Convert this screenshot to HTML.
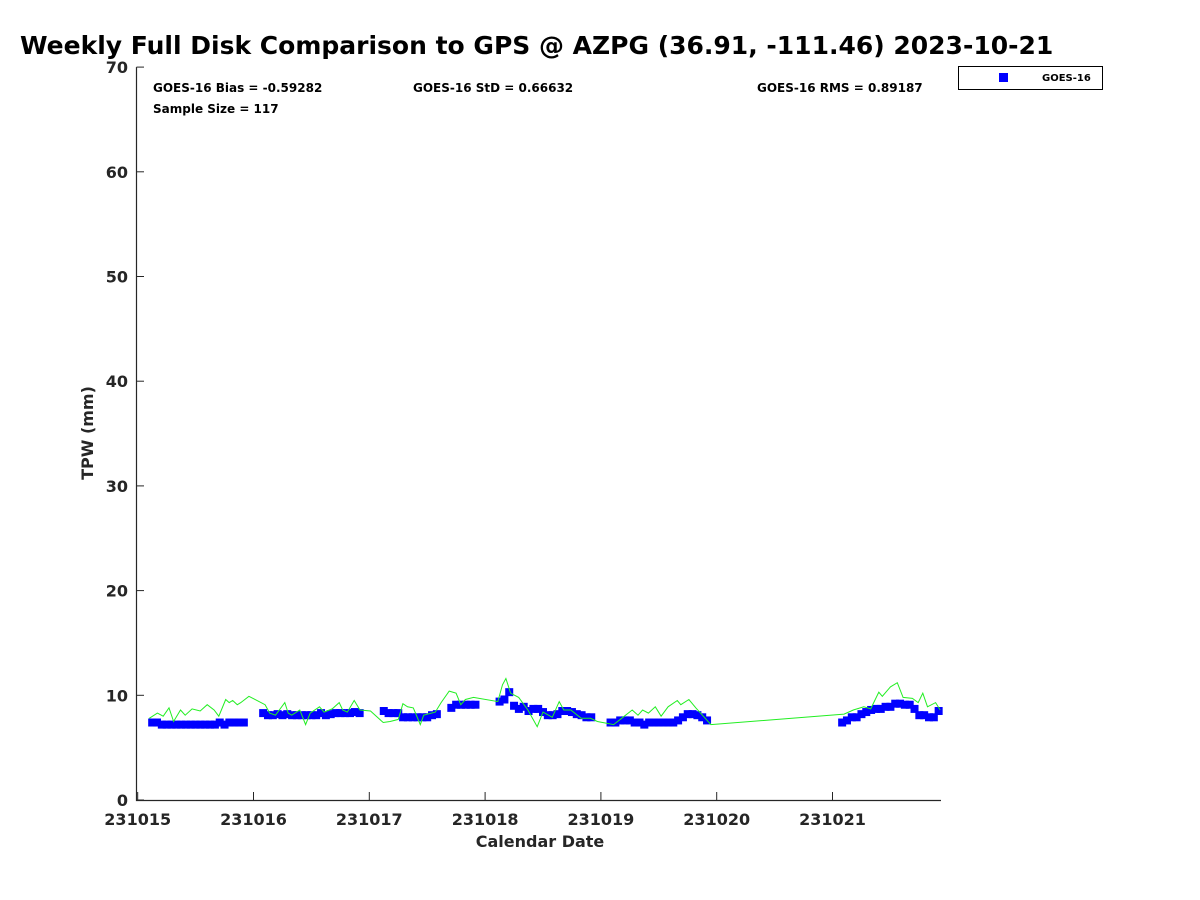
<!DOCTYPE html>
<html><head><meta charset="utf-8"><style>
body{margin:0;background:#fff;}
svg{display:block;font-family:"DejaVu Sans","Liberation Sans",sans-serif;font-weight:bold;}
</style></head><body>
<svg id="chart" width="1200" height="900" viewBox="0 0 1200 900">
<text x="20" y="54" font-size="25" fill="#000">Weekly Full Disk Comparison to GPS @ AZPG (36.91, -111.46) 2023-10-21</text>
<g id="axes"></g>
<g id="series"></g>
<text x="153" y="92" font-size="12">GOES-16 Bias = -0.59282</text>
<text x="413" y="92" font-size="12">GOES-16 StD = 0.66632</text>
<text x="757" y="92" font-size="12">GOES-16 RMS = 0.89187</text>
<text x="153" y="113" font-size="12">Sample Size = 117</text>
<g>
<rect x="958.5" y="66.5" width="144" height="23" fill="#fff" stroke="#000" stroke-width="1"/>
<rect x="999" y="73" width="9" height="9" fill="#0000ff"/>
<text x="1042" y="81" font-size="10">GOES-16</text>
</g>
<text x="540" y="847" font-size="16" text-anchor="middle" fill="#262626">Calendar Date</text>
<text transform="translate(93,433) rotate(-90)" font-size="16" text-anchor="middle" fill="#262626">TPW (mm)</text>
</svg>
<script>
const yTicks=[0,10,20,30,40,50,60,70];
const xTickLabels=["231015","231016","231017","231018","231019","231020","231021"];
const gpsDays=[0.10,0.17,0.22,0.27,0.31,0.37,0.41,0.47,0.54,0.60,0.66,0.70,0.76,0.79,0.82,0.86,0.89,0.96,1.10,1.14,1.19,1.27,1.30,1.33,1.40,1.45,1.49,1.57,1.61,1.68,1.74,1.77,1.81,1.87,1.92,2.01,2.12,2.18,2.25,2.29,2.33,2.38,2.44,2.47,2.57,2.62,2.69,2.75,2.79,2.83,2.90,3.11,3.15,3.18,3.22,3.29,3.37,3.45,3.50,3.58,3.64,3.68,3.74,3.83,3.91,3.97,4.11,4.19,4.27,4.32,4.36,4.41,4.47,4.52,4.58,4.66,4.69,4.76,4.82,4.95,6.10,6.18,6.27,6.33,6.40,6.43,6.50,6.56,6.61,6.69,6.74,6.78,6.82,6.89,6.93];
const gpsTPW=[7.8,8.3,8.0,8.8,7.5,8.6,8.1,8.7,8.5,9.1,8.6,8.0,9.6,9.3,9.5,9.1,9.3,9.9,9.1,8.3,8.1,9.3,8.3,8.1,8.6,7.2,8.3,8.9,8.4,8.7,9.3,8.6,8.4,9.5,8.6,8.5,7.4,7.5,7.7,9.2,8.9,8.8,7.2,8.1,8.4,9.3,10.4,10.2,9.1,9.6,9.8,9.4,11.0,11.6,10.2,9.8,8.6,7.0,8.4,7.9,9.4,8.6,8.6,7.8,7.8,7.5,7.2,7.9,8.6,8.1,8.6,8.3,8.9,8.0,8.9,9.5,9.1,9.6,8.8,7.2,8.2,8.6,8.9,8.7,10.3,9.9,10.8,11.2,9.8,9.7,9.3,10.2,8.9,9.3,8.6];
const goesHours=[3,4,5,6,7,8,9,10,11,12,13,14,15,16,17,18,19,20,21,22,
26,27,28,29,30,31,32,33,34,35,36,37,38,39,40,41,42,43,44,45,46,
51,52,53,54,55,56,57,58,59,60,61,62,
65,66,67,68,69,70,
75,76,77,78,79,80,81,82,83,84,85,86,87,88,89,90,91,92,93,94,
98,99,100,101,102,103,104,105,106,107,108,109,110,111,112,113,114,115,116,117,118,
146,147,148,149,150,151,152,153,154,155,156,157,158,159,160,161,162,163,164,165,166];
const goesTPW=[7.4,7.4,7.2,7.2,7.2,7.2,7.2,7.2,7.2,7.2,7.2,7.2,7.2,7.2,7.4,7.2,7.4,7.4,7.4,7.4,
8.3,8.1,8.1,8.2,8.1,8.2,8.1,8.1,8.1,8.1,8.1,8.1,8.3,8.1,8.2,8.3,8.3,8.3,8.3,8.4,8.3,
8.5,8.3,8.3,8.3,7.9,7.9,7.9,7.9,7.9,7.9,8.1,8.2,
8.8,9.1,9.1,9.1,9.1,9.1,
9.4,9.6,10.3,9.0,8.7,8.9,8.5,8.7,8.7,8.4,8.1,8.1,8.2,8.5,8.5,8.4,8.2,8.1,7.9,7.9,
7.4,7.4,7.6,7.6,7.6,7.4,7.4,7.2,7.4,7.4,7.4,7.4,7.4,7.4,7.6,7.9,8.2,8.2,8.1,7.9,7.6,
7.4,7.6,7.9,7.9,8.2,8.4,8.6,8.7,8.7,8.9,8.9,9.2,9.2,9.1,9.1,8.7,8.1,8.1,7.9,7.9,8.5];
const NS='http://www.w3.org/2000/svg';
const x0=137.7,pxPerDay=115.8,y0=800,pxPerUnit=104.7;
function xs(d){return x0+d*pxPerDay;}
function ys(v){return y0-v*pxPerUnit/10;}
function mk(tag,attrs,parent){const e=document.createElementNS(NS,tag);for(const k in attrs)e.setAttribute(k,attrs[k]);parent.appendChild(e);return e;}
const axes=document.getElementById('axes');
const ax=mk('path',{d:'M136.5 '+ys(70)+' V800.5 H941',stroke:'#262626','stroke-width':1.2,fill:'none'},axes);


yTicks.forEach(v=>{
 const y=ys(v);
 const t=mk('line',{x1:136.5,x2:144,y1:y,y2:y,stroke:'#262626','stroke-width':1},axes);
 
 
 const l=mk('text',{x:128,y:y+6,'text-anchor':'end','font-size':16,fill:'#262626'},axes);
 l.textContent=v;
 
 
});
xTickLabels.forEach((s,i)=>{
 const x=xs(i);
 const t=mk('line',{x1:x,x2:x,y1:800,y2:792,stroke:'#262626','stroke-width':1},axes);
 
 
 const l=mk('text',{x:x,y:825,'text-anchor':'middle','font-size':16,fill:'#262626'},axes);
 l.textContent=s;
 
 
});
const series=document.getElementById('series');
goesHours.forEach((h,i)=>{
 const r=mk('rect',{x:xs(h/24)-4,y:ys(goesTPW[i])-4,width:8,height:8,fill:'#0000ff'},series);
 
 
});
const line=mk('polyline',{points:gpsDays.map((d,i)=>xs(d).toFixed(1)+','+ys(gpsTPW[i]).toFixed(1)).join(' '),fill:'none',stroke:'#22ee22','stroke-width':1},series);


</script>
</body></html>
